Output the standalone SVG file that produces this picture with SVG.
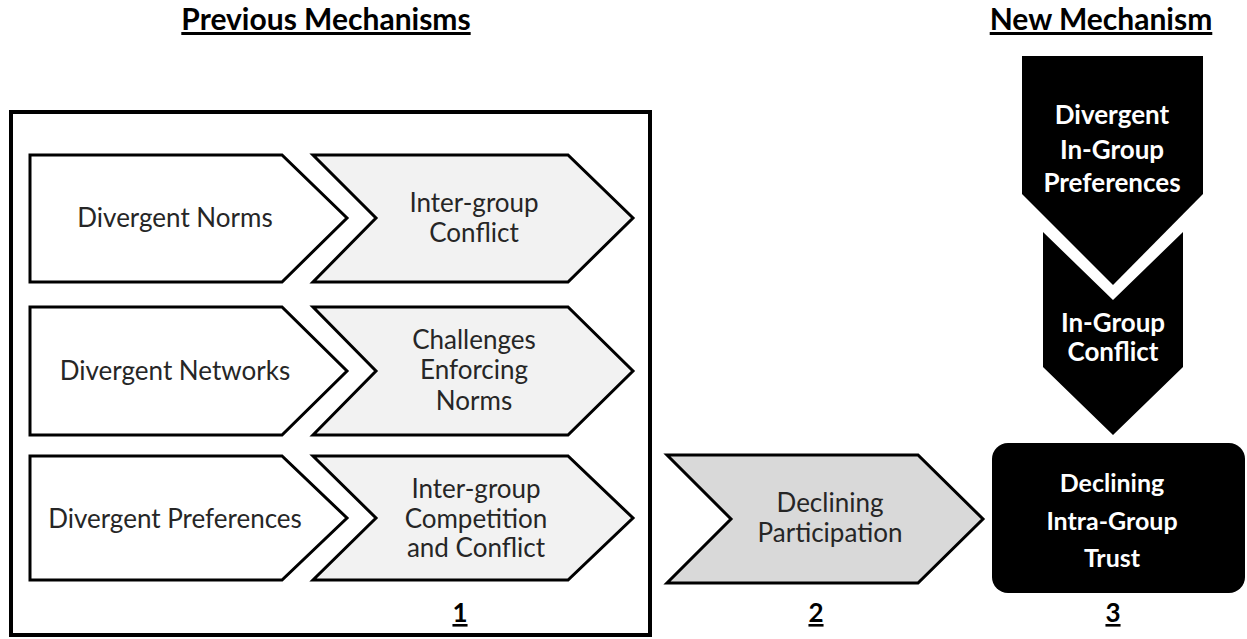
<svg xmlns="http://www.w3.org/2000/svg" width="1247" height="639" viewBox="0 0 1247 639">
<style>
.t{font-family:Lato,"Liberation Sans",sans-serif;font-size:26px;fill:#262626;text-anchor:middle}
.w{font-family:Lato,"Liberation Sans",sans-serif;font-size:26px;font-weight:bold;fill:#fff;text-anchor:middle}
.h{font-family:Lato,"Liberation Sans",sans-serif;font-size:30px;font-weight:bold;fill:#000;text-anchor:middle;text-decoration:underline}
.n{font-family:Lato,"Liberation Sans",sans-serif;font-size:26px;font-weight:bold;fill:#000;text-anchor:middle;text-decoration:underline}
.wh{fill:#fff;stroke:#000;stroke-width:3;stroke-linejoin:miter}
.lg{fill:#f2f2f2;stroke:#000;stroke-width:3}
.dg{fill:#d9d9d9;stroke:#000;stroke-width:3}
.bk{fill:#000}
</style>
<rect width="1247" height="639" fill="#fff"/>
<text class="h" x="326" y="30">Previous Mechanisms</text>
<text class="h" x="1101" y="30">New Mechanism</text>
<g id="box1">
<rect x="11" y="112" width="639" height="523" fill="none" stroke="#000" stroke-width="4"/>
<text class="n" x="460" y="622">1</text>
</g>
<g id="divergent-norms">
<polygon class="wh" points="30,155 282,155 347,218 282,282 30,282"/>
<text class="t" x="175" y="227">Divergent Norms</text>
</g>
<g id="intergroup-conflict">
<polygon class="lg" points="313,155 568,155 633,218 568,282 313,282 376,218"/>
<text class="t" x="474" y="212">Inter-group</text>
<text class="t" x="474" y="242">Conflict</text>
</g>
<g id="divergent-networks">
<polygon class="wh" points="30,307 282,307 347,371 282,435 30,435"/>
<text class="t" x="175" y="380">Divergent Networks</text>
</g>
<g id="challenges">
<polygon class="lg" points="313,307 568,307 633,371 568,435 313,435 376,371"/>
<text class="t" x="474" y="349">Challenges</text>
<text class="t" x="474" y="379">Enforcing</text>
<text class="t" x="474" y="410">Norms</text>
</g>
<g id="divergent-preferences">
<polygon class="wh" points="30,456 282,456 347,518 282,580 30,580"/>
<text class="t" x="175" y="528">Divergent Preferences</text>
</g>
<g id="competition">
<polygon class="lg" points="313,456 568,456 633,518 568,580 313,580 376,518"/>
<text class="t" x="476" y="498">Inter-group</text>
<text class="t" x="476" y="528">Competition</text>
<text class="t" x="476" y="557">and Conflict</text>
</g>
<g id="declining-participation">
<polygon class="dg" points="667,455 918,455 983,519 918,583 667,583 731,519"/>
<text class="t" x="830" y="512">Declining</text>
<text class="t" x="830" y="542">Participation</text>
<text class="n" x="816" y="622">2</text>
</g>
<g id="divergent-ingroup">
<polygon class="bk" points="1022,56 1203,56 1203,194 1113,285 1022,194"/>
<text class="w" x="1112" y="124">Divergent</text>
<text class="w" x="1112" y="159">In-Group</text>
<text class="w" x="1112" y="192">Preferences</text>
</g>
<g id="ingroup-conflict">
<polygon class="bk" points="1043,232 1113,300 1183,232 1183,367 1113,435 1043,367"/>
<text class="w" x="1113" y="332">In-Group</text>
<text class="w" x="1113" y="361">Conflict</text>
</g>
<g id="declining-trust">
<rect class="bk" x="992" y="443" width="253" height="150" rx="16"/>
<text class="w" x="1112" y="492" style="font-size:25px">Declining</text>
<text class="w" x="1112" y="530" style="font-size:25px">Intra-Group</text>
<text class="w" x="1112" y="567" style="font-size:25px">Trust</text>
<text class="n" x="1113" y="622">3</text>
</g>
<g id="connectors"></g>
</svg>
